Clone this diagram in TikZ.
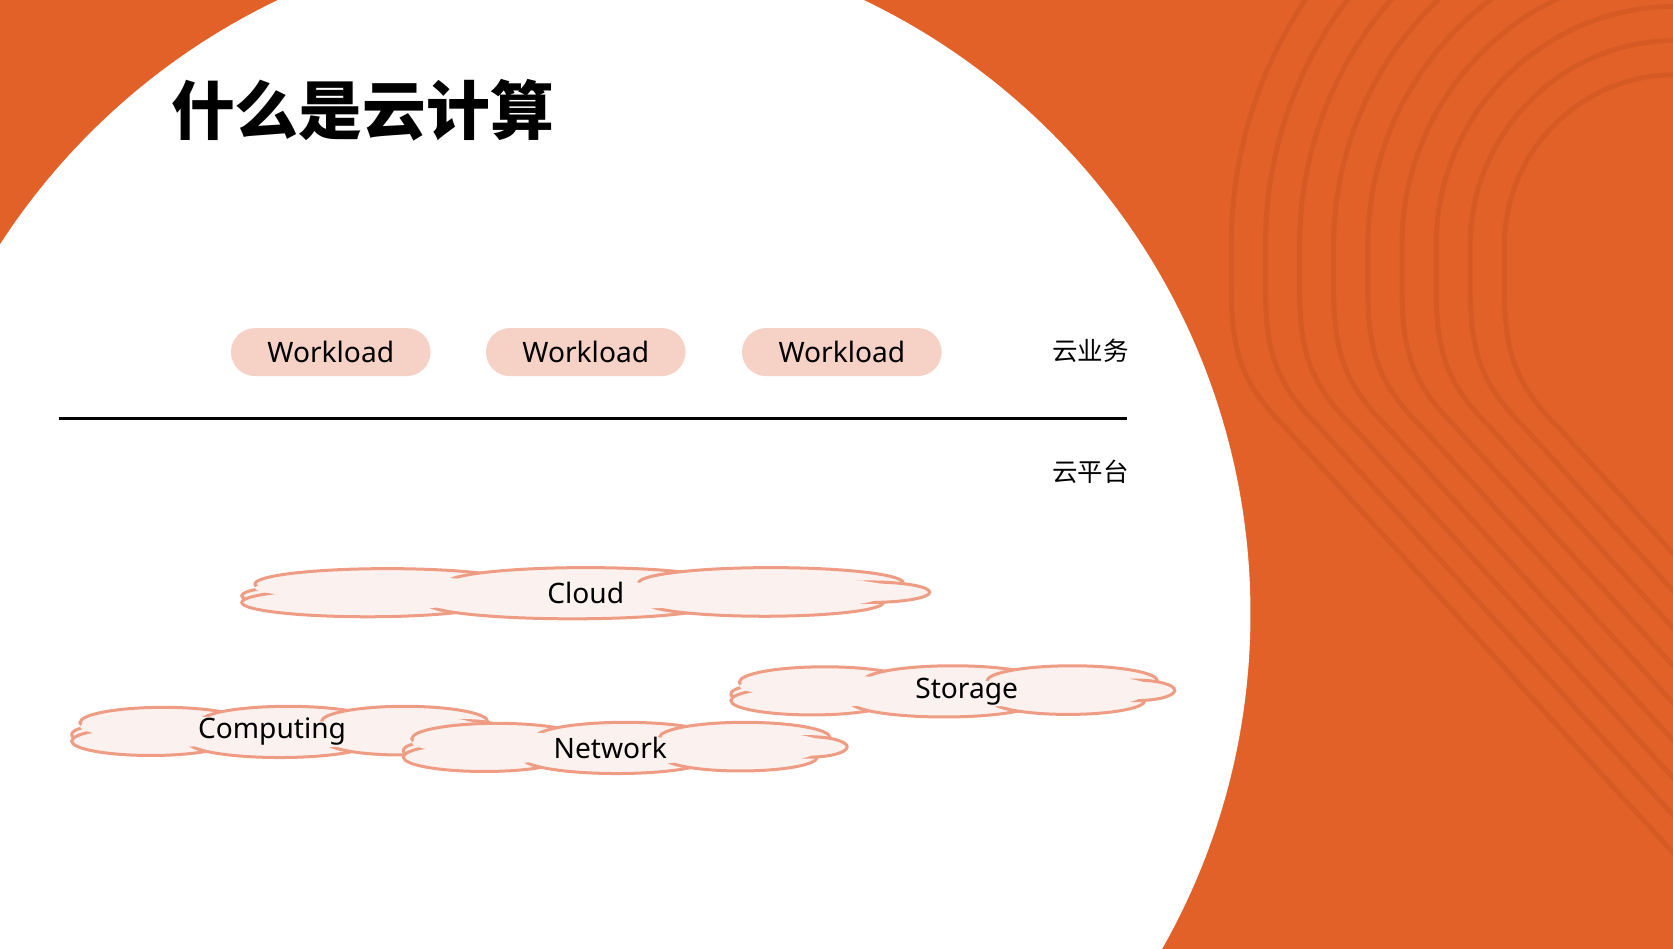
\documentclass[tikz,border=0pt]{standalone}
\usepackage{fontspec}
\setmainfont{Noto Sans}
\newfontfamily\cjk{Noto Sans CJK SC}
\definecolor{bgorange}{HTML}{E26128}
\definecolor{ringorange}{HTML}{D65A23}
\definecolor{pillpink}{HTML}{F6D2C6}
\definecolor{cloudfill}{HTML}{FBF1EF}
\definecolor{cloudline}{HTML}{EE9C84}
\tikzset{
  pill/.style={fill=pillpink, rounded corners=6.4pt, minimum width=1.87cm,
    minimum height=0.45cm, font=\fontsize{7.5}{9}\selectfont},
  layer/.style={font=\cjk\fontsize{6.8}{8}\selectfont},
  puffline/.style={draw=cloudline, line width=0.8pt, fill=cloudfill},
  cloudtext/.style={inner sep=0pt, font=\fontsize{7.5}{9}\selectfont}
}
% flat cloud: #1 name, #2 x, #3 y, #4 width, #5 text shift, #6 text
\newcommand{\flatcloud}[6]{%
  \foreach \fx/\fy/\rx/\ry in {-0.44/0.05/0.08/0.18, -0.3/-0.18/0.2/0.3, -0.33/0.18/0.19/0.28,
      -0.02/0.2/0.22/0.3, 0/-0.2/0.21/0.3, 0.28/-0.2/0.2/0.3, 0.27/0.18/0.18/0.27, 0.43/-0.02/0.09/0.2}{
    \draw[puffline] (#2+\fx*#4,#3+\fy*48) ellipse[x radius=\rx*#4, y radius=\ry*48];
  }
  \foreach \fx/\fy/\rx/\ry in {-0.3/-0.1/0.2/0.22, -0.3/0.1/0.18/0.2, 0/0.05/0.24/0.27,
      0.27/-0.1/0.19/0.22, 0.27/0.1/0.17/0.2}{
    \fill[cloudfill] (#2+\fx*#4,#3+\fy*48) ellipse[x radius=\rx*#4, y radius=\ry*48];
  }
  \node[cloudtext] (#1) at (#2+#5,#3) {#6};
}
\begin{document}
\begin{tikzpicture}[x=0.01cm,y=-0.01cm]
\useasboundingbox (0,0) rectangle (1568,889);
\fill[bgorange] (0,0) rectangle (1568,889);
% rings on the right
\begin{scope}
\clip (0,0) rectangle (1568,889);
\foreach \r in {160,192,224,256,288,320,352,384,416}{
  \draw[ringorange, line width=1.3pt]
    (1570,230-\r) arc[start angle=-90, end angle=-180, radius=\r]
    -- ++(0,40) .. controls ++(0,60) and ++(-40,-40) .. ++(50,130) -- ++(520,570);
}
\end{scope}
\fill[white] (535,575) circle (637);
% title
\node[font=\cjk\bfseries\fontsize{17}{20}\selectfont, anchor=west] (title) at (148,103) {什么是云计算};
% workloads
\node[pill] (w1) at (310,330) {Workload};
\node[pill] (w2) at (549,330) {Workload};
\node[pill] (w3) at (789,330) {Workload};
\node[layer] (biz) at (1022,329) {云业务};
\node[layer] (plat) at (1022,442) {云平台};
\coordinate (lineL) at (55,392);
\coordinate (lineR) at (1056,392);
\draw[line width=0.9pt] (lineL) -- (lineR);
% clouds
\flatcloud{cloud}{549}{556}{620}{0}{Cloud}
\flatcloud{storage}{893}{648}{400}{13}{Storage}
\flatcloud{computing}{270}{686}{390}{-15}{Computing}
\flatcloud{network}{586}{701}{400}{-14}{Network}
\end{tikzpicture}
\end{document}
